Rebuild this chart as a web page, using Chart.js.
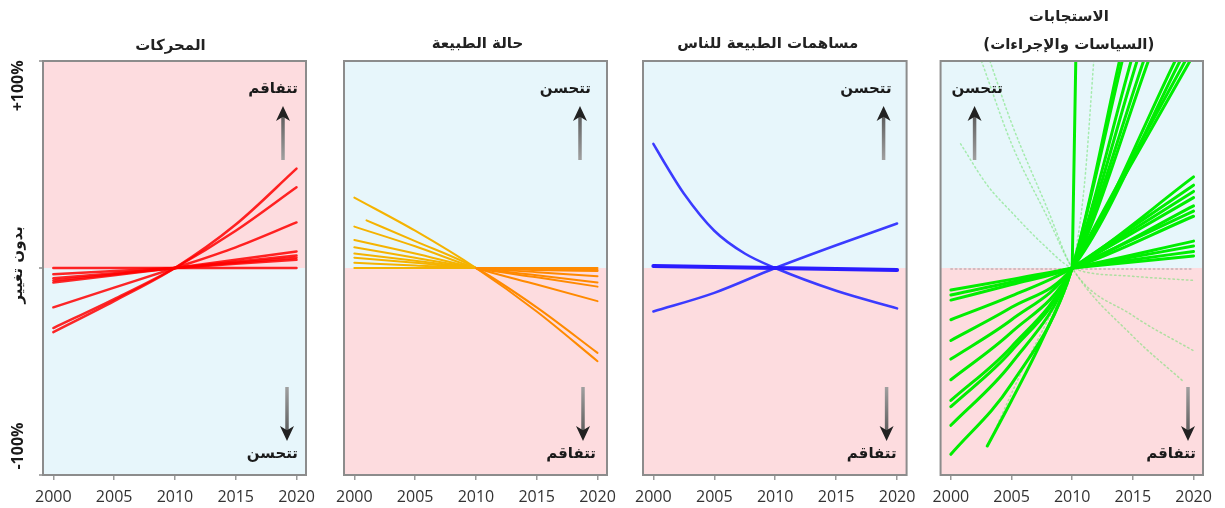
<!DOCTYPE html>
<html>
<head>
<meta charset="utf-8">
<script src="https://cdn.jsdelivr.net/npm/chart.js@4.4.1/dist/chart.umd.min.js"></script>
<style>
html, body { margin: 0; padding: 0; background: #fff; width: 1225px; height: 508px; overflow: hidden; }
canvas { position: absolute; top: 0; }
</style>
</head>
<body>
<canvas id="p1" width="325" height="508" style="left:0px"></canvas>
<canvas id="p2" width="301" height="508" style="left:325px"></canvas>
<canvas id="p3" width="298" height="508" style="left:626px"></canvas>
<canvas id="p4" width="301" height="508" style="left:924px"></canvas>
<script>
// ── Axis ticks ──
const tickYears = [2000, 2005, 2010, 2015, 2020];

// ── Panel 1: المحركات (red) — [year, % change vs 2010] ──
const driversSeries = [
  [[2000, -31], [2005, -16], [2010, 0], [2015, 21], [2020, 48]],
  [[2000, -29], [2005, -15], [2010, 0], [2015, 18], [2020, 39]],
  [[2000, -19], [2005, -9.5], [2010, 0], [2015, 10], [2020, 22]],
  [[2000, -7], [2005, -3.5], [2010, 0], [2015, 4], [2020, 8]],
  [[2000, -6], [2005, -3], [2010, 0], [2015, 3], [2020, 6]],
  [[2000, -5], [2005, -2.5], [2010, 0], [2015, 2.5], [2020, 5]],
  [[2000, -3], [2005, -1.5], [2010, 0], [2015, 2], [2020, 4]],
  [[2000, 0], [2005, 0], [2010, 0], [2015, 0], [2020, 0]]
];

// ── Panel 2: حالة الطبيعة (orange) ──
const natureSeries = [
  [[2000, 34], [2005, 18], [2010, 0], [2015, -21], [2020, -45]],
  [[2001, 23], [2005, 13], [2010, 0], [2015, -19], [2020, -41]],
  [[2000, 20], [2005, 10.5], [2010, 0], [2015, -8], [2020, -16]],
  [[2000, 13.5], [2005, 7], [2010, 0], [2015, -4.5], [2020, -9]],
  [[2000, 10], [2005, 5], [2010, 0], [2015, -3.5], [2020, -7]],
  [[2000, 7], [2005, 3.5], [2010, 0], [2015, -2], [2020, -4]],
  [[2000, 5], [2005, 2.5], [2010, 0], [2015, -1], [2020, -1.5]],
  [[2000, 2.5], [2005, 1.2], [2010, 0], [2015, -0.5], [2020, -1]],
  [[2000, 0], [2005, 0], [2010, 0], [2015, 0], [2020, 0]]
];

// ── Panel 3: مساهمات الطبيعة للناس (blue) ──
const ncpSeries = [
  [[2000, 60], [2001, 50], [2002.5, 36], [2005, 18], [2007.5, 7], [2010, 0], [2015, -11], [2020, -19.5]],
  [[2000, -21], [2005, -12], [2010, 0], [2015, 11], [2020, 21.5]]
];
const ncpFlat = [[2000, 1], [2010, 0], [2020, -1]];

// ── Panel 4: الاستجابات (green) ──
const responseSolid = [
  [[2000, -90], [2005, -56], [2010, 0], [2013.97, 102]],
  [[2003, -86], [2005, -64], [2007.5, -35], [2010, 0], [2014.2, 102]],
  [[2000, -76], [2005, -46], [2010, 0], [2014.95, 102]],
  [[2000, -67], [2005, -40], [2010, 0], [2015.45, 102]],
  [[2000, -64], [2005, -38], [2010, 0], [2016, 102]],
  [[2000, -54], [2005, -31], [2010, 0], [2016.4, 102]],
  [[2000, -44], [2005, -25], [2010, 0], [2018.65, 102]],
  [[2000, -35], [2005, -19], [2010, 0], [2019.06, 102]],
  [[2000, -25], [2005, -13.5], [2010, 0], [2020, 44]],
  [[2000, -15.5], [2005, -8], [2010, 0], [2020, 30]],
  [[2000, -13], [2005, -6.8], [2010, 0], [2020, 25]],
  [[2000, -10.6], [2005, -5.5], [2010, 0], [2020, 13]],
  [[2010, 0], [2010.3, 102]],
  [[2010, 0], [2019.5, 102]],
  [[2010, 0], [2019.9, 102]],
  [[2010, 0], [2020, 40]],
  [[2010, 0], [2020, 37]],
  [[2010, 0], [2020, 34]],
  [[2010, 0], [2020, 27.5]],
  [[2010, 0], [2020, 10.6]],
  [[2010, 0], [2020, 8]],
  [[2010, 0], [2020, 5.8]]
];
const responseFaint = [
  [[2002.4, 102], [2005, 60], [2008, 24], [2010, 0], [2015, -33], [2019.2, -55]],
  [[2003.1, 102], [2005, 70], [2008, 28], [2010, 0], [2015, -23], [2020, -40]],
  [[2000.8, 60], [2003, 40], [2005, 27], [2007.5, 12], [2010, 0], [2015, -4], [2020, -6]],
  [[2003.5, -80], [2006, -48], [2008, -25], [2010, 0], [2011, 40], [2011.8, 102]]
];
const responseZero = [[2000, -0.5], [2020, -0.5]];

const PINK = '#fddcdf';
const BLUE = '#e7f6fb';
const AR_FONT = "'DejaVu Sans', sans-serif";

const pts = s => s.map(([x, y]) => ({ x, y }));

function drawArrow(ctx, x, tail, tip) {
  const dir = tip < tail ? -1 : 1;
  const headLen = 15, headW = 7;
  const g = ctx.createLinearGradient(0, tail, 0, tip);
  g.addColorStop(0, '#a0a0a0');
  g.addColorStop(1, '#505050');
  ctx.strokeStyle = g;
  ctx.lineWidth = 3.5;
  ctx.beginPath();
  ctx.moveTo(x, tail);
  ctx.lineTo(x, tip - dir * headLen * 0.6);
  ctx.stroke();
  ctx.fillStyle = '#222';
  ctx.beginPath();
  ctx.moveTo(x, tip);
  ctx.lineTo(x - headW, tip - dir * headLen);
  ctx.lineTo(x, tip - dir * headLen * 0.72);
  ctx.lineTo(x + headW, tip - dir * headLen);
  ctx.closePath();
  ctx.fill();
}

// ── Plugin de decoração: fundos, moldura, setas, títulos ──
function makeDecor(cfg) {
  return {
    id: 'decor',
    beforeDatasetsDraw(chart) {
      const { ctx, chartArea: a, scales: { y } } = chart;
      const y0 = y.getPixelForValue(0);
      ctx.save();
      ctx.fillStyle = cfg.upper;
      ctx.fillRect(a.left, a.top, a.width, y0 - a.top);
      ctx.fillStyle = cfg.lower;
      ctx.fillRect(a.left, y0, a.width, a.bottom - y0);
      ctx.restore();
    },
    afterDatasetsDraw(chart) {
      const { ctx, chartArea: a, scales: { y } } = chart;
      ctx.save();
      ctx.strokeStyle = '#8c8c8c';
      ctx.lineWidth = 2;
      ctx.strokeRect(a.left, a.top, a.width, a.height);

      // setas
      drawArrow(ctx, cfg.upArrowX(a), a.top + 99, a.top + 45);
      drawArrow(ctx, cfg.downArrowX(a), a.bottom - 88, a.bottom - 34);

      // rótulos
      ctx.fillStyle = '#1a1a1a';
      ctx.font = 'bold 15px ' + AR_FONT;
      ctx.textBaseline = 'middle';
      ctx.textAlign = cfg.topAlign;
      ctx.fillText(cfg.topText, cfg.topTextX(a), a.top + 28);
      ctx.textAlign = 'right';
      ctx.fillText(cfg.bottomText, cfg.bottomTextX(a), a.bottom - 21);

      // marcas do eixo esquerdo (apenas painel 1)
      if (cfg.leftLabels) {
        ctx.strokeStyle = '#8c8c8c';
        ctx.lineWidth = 1.5;
        [100, 0, -100].forEach(v => {
          const py = y.getPixelForValue(v);
          ctx.beginPath();
          ctx.moveTo(a.left - 4, py);
          ctx.lineTo(a.left, py);
          ctx.stroke();
        });
      }
      ctx.restore();
    },
    afterDraw(chart) {
      const { ctx, chartArea: a, scales: { y } } = chart;
      ctx.save();
      ctx.fillStyle = '#222';
      ctx.font = 'bold 15px ' + AR_FONT;
      ctx.textAlign = 'center';
      ctx.textBaseline = 'middle';
      const cx = (a.left + a.right) / 2 + cfg.titleShift;
      cfg.title.forEach((line, i) => {
        ctx.fillText(line, cx, cfg.titleY[i]);
      });
      if (cfg.leftLabels) {
        const labels = [
          [y.getPixelForValue(88), '+100%', "bold 16px 'Open Sans'"],
          [y.getPixelForValue(1.5), 'بدون تغيير', 'bold 15px ' + AR_FONT],
          [y.getPixelForValue(-86), '-100%', "bold 16px 'Open Sans'"]
        ];
        labels.forEach(([py, txt, font]) => {
          ctx.save();
          ctx.translate(18, py);
          ctx.rotate(-Math.PI / 2);
          ctx.font = font;
          ctx.fillStyle = '#1a1a1a';
          ctx.fillText(txt, 0, 0);
          ctx.restore();
        });
      }
      ctx.restore();
    }
  };
}

function makeChart(id, datasets, decor, padL, padR) {
  return new Chart(document.getElementById(id), {
    type: 'line',
    data: { datasets },
    plugins: [makeDecor(decor)],
    options: {
      responsive: false,
      animation: false,
      devicePixelRatio: 1,
      layout: { padding: { top: 61, left: padL, right: padR, bottom: 0 } },
      elements: {
        point: { radius: 0, hoverRadius: 0 },
        line: { cubicInterpolationMode: 'monotone', borderCapStyle: 'round', borderJoinStyle: 'round' }
      },
      plugins: { legend: { display: false }, tooltip: { enabled: false } },
      events: [],
      scales: {
        x: {
          type: 'linear', min: 1999.15, max: 2020.78,
          afterBuildTicks: s => { s.ticks = tickYears.map(v => ({ value: v })); },
          afterFit: s => { s.height = 33; },
          grid: { display: true, drawOnChartArea: false, drawTicks: true, tickLength: 5, color: '#9a9a9a', lineWidth: 1.5 },
          border: { display: false },
          ticks: {
            font: { family: "'Open Sans'", size: 16 }, color: '#333', padding: 8,
            maxRotation: 0, autoSkip: false, callback: v => String(v)
          }
        },
        y: { min: -100, max: 100, display: false }
      }
    }
  });
}

// Painel 1
makeChart('p1', driversSeries.map(s => ({
  data: pts(s), borderColor: 'rgba(255,0,0,0.85)', borderWidth: 2.5, clip: 0
})), {
  upper: PINK, lower: BLUE, title: ['المحركات'], titleY: [46], titleShift: -4,
  topText: 'تتفاقم', topAlign: 'right', topTextX: a => a.right - 8,
  bottomText: 'تتحسن', bottomTextX: a => a.right - 8,
  upArrowX: a => a.right - 23, downArrowX: a => a.right - 19, leftLabels: true
}, 43, 19);

// Painel 2
makeChart('p2', natureSeries.map(s => ({
  data: pts(s), borderWidth: 2, borderColor: '#ff8c00', clip: 0,
  segment: { borderColor: c => c.p0.parsed.x < 2010 ? '#f5b300' : '#ff8a00' }
})), {
  upper: BLUE, lower: PINK, title: ['حالة الطبيعة'], titleY: [44], titleShift: 2,
  topText: 'تتحسن', topAlign: 'right', topTextX: a => a.right - 16,
  bottomText: 'تتفاقم', bottomTextX: a => a.right - 11,
  upArrowX: a => a.right - 27, downArrowX: a => a.right - 24
}, 19, 19);

// Painel 3
makeChart('p3', [
  { data: pts(ncpFlat), borderColor: '#2a1cff', borderWidth: 4, clip: 0 },
  ...ncpSeries.map(s => ({ data: pts(s), borderColor: '#3b3bff', borderWidth: 2.5, clip: 0 }))
], {
  upper: BLUE, lower: PINK, title: ['مساهمات الطبيعة للناس'], titleY: [44], titleShift: -7,
  topText: 'تتحسن', topAlign: 'right', topTextX: a => a.right - 15,
  bottomText: 'تتفاقم', bottomTextX: a => a.right - 10,
  upArrowX: a => a.right - 23, downArrowX: a => a.right - 20
}, 17, 17);

// Painel 4
makeChart('p4', [
  ...responseSolid.map(s => ({ data: pts(s), borderColor: '#00ee00', borderWidth: 3, clip: 0 })),
  ...responseFaint.map(s => ({ data: pts(s), borderColor: 'rgba(110,225,110,0.55)', borderWidth: 1.5, borderDash: [1.5, 3], clip: 0 })),
  { data: pts(responseZero), borderColor: 'rgba(150,140,145,0.55)', borderWidth: 1.5, borderDash: [1.5, 3], clip: 0 }
], {
  upper: BLUE, lower: PINK, title: ['الاستجابات', '(السياسات والإجراءات)'], titleY: [17, 45], titleShift: -3,
  topText: 'تتحسن', topAlign: 'left', topTextX: a => a.left + 11,
  bottomText: 'تتفاقم', bottomTextX: a => a.right - 7,
  upArrowX: a => a.left + 34, downArrowX: a => a.right - 15
}, 15, 22);
</script>
</body>
</html>
